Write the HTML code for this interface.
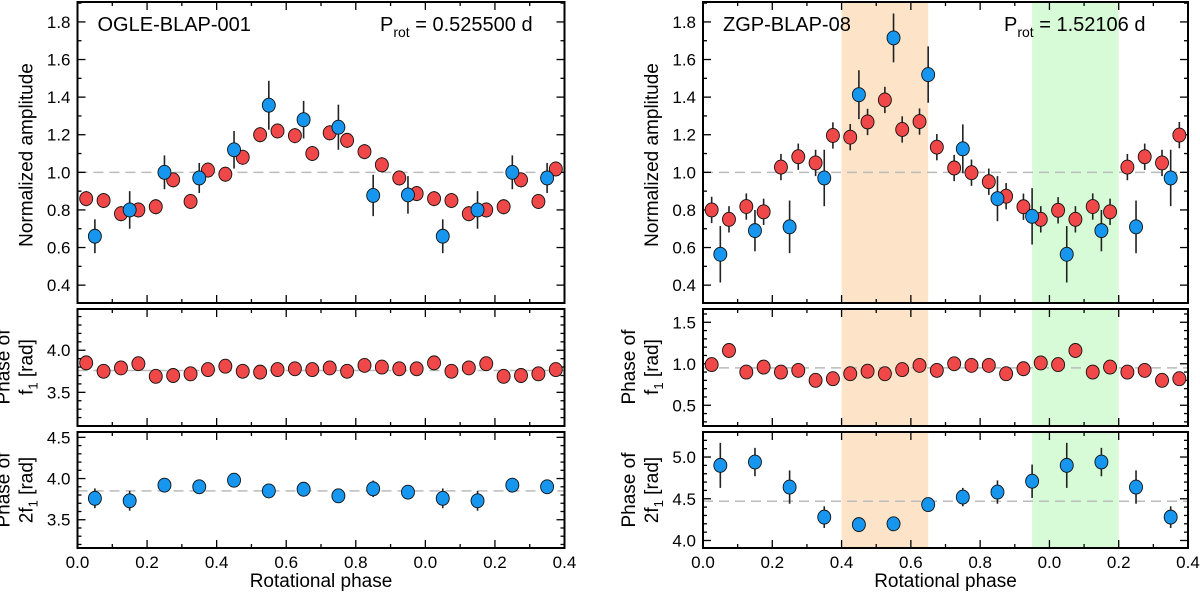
<!DOCTYPE html>
<html><head><meta charset="utf-8"><style>
body{margin:0;background:#fff;width:1200px;height:592px;overflow:hidden}
svg{font-family:"Liberation Sans",sans-serif}
</style></head><body>
<svg id="c" width="1200" height="592"></svg>
<script>
// ---- data ----
const redPhases=[0.025,0.075,0.125,0.175,0.225,0.275,0.325,0.375,0.425,0.475,0.525,0.575,0.625,0.675,0.725,0.775,0.825,0.875,0.925,0.975,1.025,1.075,1.125,1.175,1.225,1.275,1.325,1.375];
const bluePhases=[0.05,0.15,0.25,0.35,0.45,0.55,0.65,0.75,0.85,0.95,1.05,1.15,1.25,1.35];
const xTickLabels=["0.0","0.2","0.4","0.6","0.8","0.0","0.2","0.4"];
// left star
const L_ampRed=[0.86,0.85,0.78,0.80,0.817,0.96,0.845,1.012,0.99,1.08,1.20,1.22,1.195,1.10,1.21,1.17,1.11,1.04,0.97,0.887,0.86,0.85,0.78,0.80,0.817,0.96,0.845,1.018];
const L_ampBlue=[0.66,0.80,1.0,0.97,1.12,1.357,1.28,1.24,0.877,0.88,0.66,0.80,1.0,0.97];
const L_ampBlueErr=[0.09,0.1,0.09,0.08,0.1,0.13,0.1,0.12,0.11,0.1,0.09,0.1,0.09,0.08];
const L_phRed=[3.85,3.75,3.79,3.84,3.69,3.70,3.72,3.77,3.81,3.75,3.74,3.77,3.78,3.77,3.79,3.75,3.82,3.80,3.78,3.78,3.85,3.75,3.79,3.84,3.69,3.70,3.72,3.77];
const L_ph2Blue=[3.76,3.73,3.92,3.90,3.98,3.85,3.87,3.79,3.875,3.835,3.76,3.73,3.92,3.90];
const L_ph2Err=[0.12,0.12,0.08,0.07,0.07,0.08,0.06,0.07,0.1,0.08,0.12,0.12,0.08,0.07];
// right star
const R_ampRed=[0.80,0.75,0.818,0.79,1.028,1.083,1.05,1.196,1.187,1.268,1.385,1.228,1.27,1.134,1.023,0.998,0.95,0.873,0.817,0.75,0.798,0.75,0.818,0.79,1.028,1.083,1.05,1.198];
const R_ampBlue=[0.564,0.69,0.71,0.97,1.413,1.715,1.52,1.125,0.86,0.766,0.564,0.69,0.71,0.97];
const R_ampBlueErr=[0.15,0.11,0.14,0.15,0.13,0.13,0.15,0.13,0.12,0.15,0.15,0.11,0.14,0.15];
const R_phRed=[0.99,1.16,0.90,0.96,0.90,0.92,0.80,0.82,0.88,0.91,0.88,0.93,0.98,0.92,1.00,0.98,0.98,0.88,0.94,1.01,0.99,1.16,0.90,0.96,0.90,0.92,0.80,0.82];
const R_ph2Blue=[4.90,4.94,4.64,4.28,4.19,4.20,4.43,4.52,4.58,4.71,4.90,4.94,4.64,4.28];
const R_ph2Err=[0.27,0.17,0.2,0.13,0.06,0.05,0.08,0.11,0.14,0.2,0.27,0.17,0.2,0.13];

const svg=document.getElementById('c');
const NS="http://www.w3.org/2000/svg";
function el(tag,attrs,parent){const e=document.createElementNS(NS,tag);for(const k in attrs)e.setAttribute(k,attrs[k]);(parent||svg).appendChild(e);return e;}
const RED="#f04848",BLUE="#1696ee";

function panel(o){
  const g=el('g',{});
  
  
  const X=v=>o.x0+(v/1.4)*(o.x1-o.x0);
  const Y=v=>o.y1-(v-o.ymin)/(o.ymax-o.ymin)*(o.y1-o.y0);
  (o.shades||[]).forEach(s=>{
    const r=el('rect',{x:X(s[0]),y:o.y0,width:X(s[1])-X(s[0]),height:o.y1-o.y0,fill:s[2]},g);
    
    
  });
  const dl=el('line',{x1:o.x0,x2:o.x1,y1:Y(o.ref),y2:Y(o.ref),stroke:"#bbb","stroke-width":1.5,"stroke-dasharray":"10,6"},g);
  
  
  for(let i=0;i<=14;i++){const xv=X(i*0.1),len=i%2?4:8;
    el('line',{x1:xv,x2:xv,y1:o.y1,y2:o.y1-len,stroke:"#000","stroke-width":1.3},g);
    el('line',{x1:xv,x2:xv,y1:o.y0,y2:o.y0+len,stroke:"#000","stroke-width":1.3},g);}
  for(let v=Math.ceil(o.ymin/o.minor-1e-9)*o.minor;v<=o.ymax+1e-9;v+=o.minor){
    const yv=Y(v);const isMaj=Math.abs(v/o.major-Math.round(v/o.major))<1e-6;const len=isMaj?8:4;
    el('line',{x1:o.x0,x2:o.x0+len,y1:yv,y2:yv,stroke:"#000","stroke-width":1.3},g);
    el('line',{x1:o.x1,x2:o.x1-len,y1:yv,y2:yv,stroke:"#000","stroke-width":1.3},g);
    if(isMaj){const t=el('text',{x:o.x0-7,y:yv+6,"text-anchor":"end","font-size":17},g);t.textContent=v.toFixed(1);
      
      }
  }
  function pts(ph,vals,err,col,nm){
    ph.forEach((p,i)=>{const e=Array.isArray(err)?err[i]:err;
      const l=el('line',{x1:X(p),x2:X(p),y1:Y(vals[i]-e),y2:Y(vals[i]+e),stroke:"#222","stroke-width":1.6},g);
      
      
      const c=el('ellipse',{cx:X(p),cy:Y(vals[i]),rx:6.5,ry:7,fill:col,stroke:"#111","stroke-width":0.9},g);
      
      });
  }
  if(o.red)pts(redPhases,o.red,o.redErr,RED,'f1');
  if(o.blue)pts(bluePhases,o.blue,o.blueErr,BLUE,'2f1');
  const b=el('rect',{x:o.x0,y:o.y0,width:o.x1-o.x0,height:o.y1-o.y0,fill:"none",stroke:"#000","stroke-width":2},g);
  
  
  if(o.xlabels){xTickLabels.forEach((s,i)=>{const t=el('text',{x:X(i*0.2),y:o.y1+20,"text-anchor":"middle","font-size":17},g);t.textContent=s;
    
    });
    const t=el('text',{x:(o.x0+o.x1)/2,y:o.y1+39,"text-anchor":"middle","font-size":19},g);t.textContent="Rotational phase";
    
    }
  return {X,Y,g};
}
function ylab(x,y,lines){
  const t=el('text',{transform:`translate(${x},${y}) rotate(-90)`,"text-anchor":"middle","font-size":19});
  
  
  t.innerHTML=lines;
}
function stars(sx,w,shades,d,name,period,refs,mid,bot){
  const x0=sx,x1=sx+w;
  panel({name:name+'-amplitude-panel',x0,x1,y0:2,y1:303,ymin:0.305,ymax:1.906,major:0.2,minor:0.1,ref:1.0,red:d.ar,redErr:d.are,blue:d.ab,blueErr:d.abe,shades});
  panel({name:name+'-phase-f1-panel',x0,x1,y0:309,y1:426,ymin:mid[0],ymax:mid[1],major:0.5,minor:0.1,ref:refs[0],red:d.pr,redErr:d.pre,shades});
  panel({name:name+'-phase-2f1-panel',x0,x1,y0:432,y1:548,ymin:bot[0],ymax:bot[1],major:0.5,minor:0.1,ref:refs[1],blue:d.pb,blueErr:d.pbe,shades,xlabels:true});
  const lx=sx-45;
  ylab(lx,155,'Normalized amplitude');
  ylab(lx-23,367,'<tspan x="0" dy="0">Phase of</tspan>');
  ylab(lx,367,'f<tspan font-size="13" dy="5">1</tspan><tspan dy="-5"> [rad]</tspan>');
  ylab(lx-23,490,'<tspan>Phase of</tspan>');
  ylab(lx,490,'2f<tspan font-size="13" dy="5">1</tspan><tspan dy="-5"> [rad]</tspan>');
  const t=el('text',{x:sx+20,y:31,"font-size":20});t.textContent=name;
  
  
  const p=el('text',{x:period[1],y:31,"font-size":20});
  p.innerHTML='P<tspan font-size="14" dy="6">rot</tspan><tspan dy="-6"> = '+period[0]+'</tspan>';
  
  
}
stars(77.5,487,[],{ar:L_ampRed,are:0.04,ab:L_ampBlue,abe:L_ampBlueErr,pr:L_phRed,pre:0.025,pb:L_ph2Blue,pbe:L_ph2Err},
  "OGLE-BLAP-001",["0.525500 d",380],[3.76,3.85],[3.10,4.49],[3.157,4.565]);
stars(703,485,[[0.4,0.65,"#fde4c8"],[0.95,1.2,"#d6fbd6"]],{ar:R_ampRed,are:0.07,ab:R_ampBlue,abe:R_ampBlueErr,pr:R_phRed,pre:0.05,pb:R_ph2Blue,pbe:R_ph2Err},
  "ZGP-BLAP-08",["1.52106 d",1004],[0.95,4.47],[0.25,1.66],[3.91,5.30]);
</script>
</body></html>
